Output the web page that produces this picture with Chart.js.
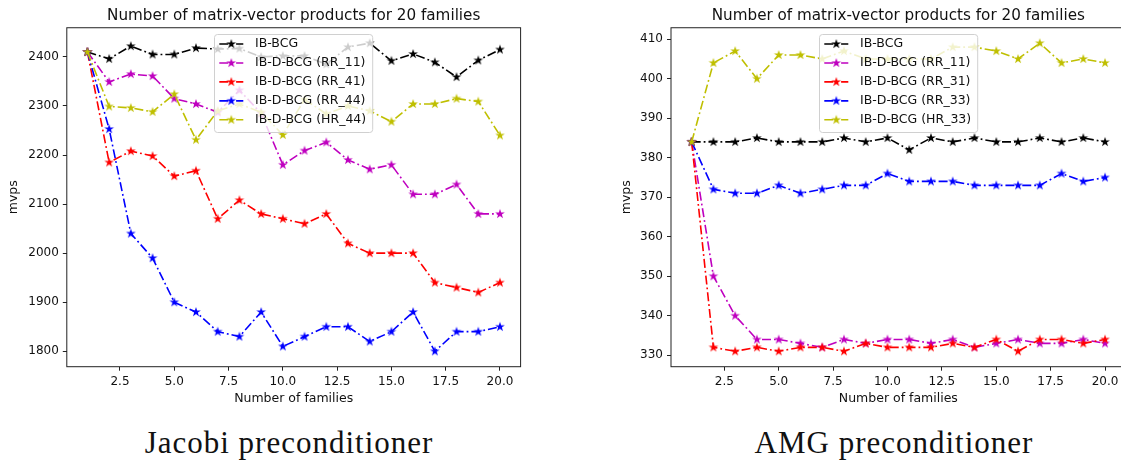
<!DOCTYPE html>
<html>
<head>
<meta charset="utf-8">
<script src="https://cdn.jsdelivr.net/npm/chart.js@4.4.1/dist/chart.umd.min.js"></script>
<style>
  html, body { margin: 0; padding: 0; background: #fff; }
  #wrap { position: relative; width: 1121px; height: 461px; overflow: hidden; }
  canvas { position: absolute; top: 0; }
  #jac { left: 0; }
  #amg { left: 560px; }
  .caption {
    position: absolute; top: 427px; line-height: 31px;
    font-family: "Liberation Serif", serif; font-size: 31px; letter-spacing: 1px;
    color: #111; white-space: nowrap; transform: translateX(-50%);
  }
</style>
</head>
<body>
<div id="wrap">
  <canvas id="jac" width="560" height="420"></canvas>
  <canvas id="amg" width="600" height="420"></canvas>
  <div class="caption" style="left:289px">Jacobi preconditioner</div>
  <div class="caption" style="left:894px">AMG preconditioner</div>
</div>
<script>
// number of families on the x axis
const families = [1, 2, 3, 4, 5, 6, 7, 8, 9, 10, 11, 12, 13, 14, 15, 16, 17, 18, 19, 20];
const xTicks = [2.5, 5, 7.5, 10, 12.5, 15, 17.5, 20];
const jacTicks = [1800, 1900, 2000, 2100, 2200, 2300, 2400];
const amgTicks = [330, 340, 350, 360, 370, 380, 390, 400, 410];

const jacLabels = ['IB-BCG', 'IB-D-BCG (RR_11)', 'IB-D-BCG (RR_41)', 'IB-D-BCG (RR_44)', 'IB-D-BCG (HR_44)'];
const amgLabels = ['IB-BCG', 'IB-D-BCG (RR_11)', 'IB-D-BCG (RR_31)', 'IB-D-BCG (RR_33)', 'IB-D-BCG (HR_33)'];

// Jacobi preconditioner
const jacIB   = [2410, 2396, 2422, 2405, 2405, 2418, 2416, 2417, 2400, 2402, 2402, 2385, 2420, 2428, 2392, 2406, 2389, 2359, 2393, 2415];
const jacRR11 = [2410, 2349, 2365, 2361, 2315, 2304, 2287, 2332, 2285, 2180, 2209, 2226, 2190, 2171, 2180, 2120, 2120, 2140, 2080, 2080];
const jacRR41 = [2410, 2185, 2208, 2198, 2157, 2168, 2070, 2108, 2080, 2070, 2060, 2080, 2020, 2000, 2000, 2000, 1940, 1930, 1920, 1940];
const jacRR44 = [2410, 2253, 2040, 1990, 1900, 1880, 1840, 1830, 1880, 1810, 1830, 1850, 1850, 1820, 1840, 1880, 1800, 1840, 1840, 1850];
const jacHR44 = [2410, 2299, 2296, 2288, 2324, 2231, 2290, 2304, 2287, 2241, 2313, 2284, 2300, 2290, 2268, 2304, 2304, 2315, 2309, 2240];

// AMG preconditioner
const amgIB   = [384, 384, 384, 385, 384, 384, 384, 385, 384, 385, 382, 385, 384, 385, 384, 384, 385, 384, 385, 384];
const amgRR11 = [384, 350, 340, 334, 334, 333, 332, 334, 333, 334, 334, 333, 334, 332, 333, 334, 333, 333, 334, 333];
const amgRR31 = [384, 332, 331, 332, 331, 332, 332, 331, 333, 332, 332, 332, 333, 332, 334, 331, 334, 334, 333, 334];
const amgRR33 = [384, 372, 371, 371, 373, 371, 372, 373, 373, 376, 374, 374, 374, 373, 373, 373, 373, 376, 374, 375];
const amgHR33 = [384, 404, 407, 400, 406, 406, 405, 407, 405, 405, 405, 405, 408, 408, 407, 405, 409, 404, 405, 404];

const colors = ['#000000', '#bf00bf', '#ff0000', '#0000ff', '#bfbf00'];
const dash = [9, 3, 1.8, 3];
const FONT = 'DejaVu Sans';
const INK = '#111';

function starImage(color) {
    const c = document.createElement('canvas');
    c.width = 12; c.height = 12;
    const g = c.getContext('2d');
    g.beginPath();
    for (let i = 0; i < 10; i++) {
        const r = i % 2 ? 1.95 : 5.1;
        const a = -Math.PI / 2 + i * Math.PI / 5;
        g.lineTo(6 + r * Math.cos(a), 6 + r * Math.sin(a));
    }
    g.closePath();
    g.fillStyle = color;
    g.fill();
    return c;
}
const stars = colors.map(starImage);

function makeSets(labels, series) {
    return series.map((vals, i) => ({
        label: labels[i],
        data: families.map((f, j) => ({x: f, y: vals[j]})),
        borderColor: colors[i],
        backgroundColor: colors[i],
        borderWidth: 1.6,
        borderDash: dash,
        pointStyle: stars[i],
        pointRadius: 5,
        pointHoverRadius: 5,
        tension: 0,
        fill: false,
        order: series.length - i
    }));
}

// matplotlib-like 5% margins
function yRange(series) {
    const all = [].concat(...series);
    const lo = Math.min(...all), hi = Math.max(...all);
    const pad = (hi - lo) * 0.05;
    return [lo - pad, hi + pad];
}

// box round the axes
const frame = {
    id: 'frame',
    afterDatasetsDraw(chart) {
        const {ctx, chartArea: a} = chart;
        ctx.save();
        ctx.strokeStyle = '#222';
        ctx.lineWidth = 1;
        ctx.strokeRect(a.left, a.top, a.right - a.left, a.bottom - a.top);
        ctx.restore();
    }
};

// legend box drawn over the lines
const boxLegend = {
    id: 'boxLegend',
    afterDraw(chart, args, opts) {
        const ctx = chart.ctx;
        const sets = chart.data.datasets;
        ctx.save();
        ctx.font = '12.5px "' + FONT + '"';
        const textW = Math.max(...sets.map(d => ctx.measureText(d.label).width));
        const w = 41 + textW + 6, h = 98;
        ctx.beginPath();
        ctx.roundRect(opts.x + 0.5, opts.y + 0.5, w, h, 3);
        ctx.fillStyle = 'rgba(255,255,255,0.8)';
        ctx.fill();
        ctx.strokeStyle = '#d0d0d0';
        ctx.lineWidth = 1;
        ctx.stroke();
        sets.forEach((d, i) => {
            const cy = opts.y + 10 + i * 18.95;
            ctx.beginPath();
            ctx.setLineDash(dash);
            ctx.strokeStyle = d.borderColor;
            ctx.lineWidth = 1.6;
            ctx.moveTo(opts.x + 5.3, cy);
            ctx.lineTo(opts.x + 29.3, cy);
            ctx.stroke();
            ctx.setLineDash([]);
            ctx.drawImage(d.pointStyle, opts.x + 17.3 - 6, cy - 6);
            ctx.fillStyle = INK;
            ctx.textBaseline = 'middle';
            ctx.fillText(d.label, opts.x + 41, cy);
        });
        ctx.restore();
    }
};

function makeChart(id, labels, series, yTicks, lay) {
    const [yMin, yMax] = yRange(series);
    return new Chart(document.getElementById(id), {
        type: 'line',
        data: {datasets: makeSets(labels, series)},
        plugins: [frame, boxLegend],
        options: {
            responsive: false,
            animation: false,
            devicePixelRatio: 1,
            layout: {padding: {left: lay.padL, right: lay.padR, top: 0, bottom: 14.5}},
            plugins: {
                legend: {display: false},
                tooltip: {enabled: false},
                title: {
                    display: true,
                    text: 'Number of matrix-vector products for 20 families',
                    fullSize: false,
                    color: INK,
                    font: {family: FONT, size: 15.2, weight: 'normal'},
                    padding: {top: 7.2, bottom: 2.3}
                },
                boxLegend: {x: lay.legX, y: 34}
            },
            scales: {
                x: {
                    type: 'linear', min: 0.05, max: 20.95,
                    afterBuildTicks: s => { s.ticks = xTicks.map(v => ({value: v})); },
                    afterFit: s => { s.height = 38.8; },
                    grid: {drawOnChartArea: false, drawTicks: true, tickLength: 4, tickColor: '#222'},
                    border: {display: false},
                    ticks: {
                        callback: v => v.toFixed(1), color: INK, padding: 3.5,
                        font: {family: FONT, size: 12}, maxRotation: 0, autoSkip: false
                    },
                    title: {
                        display: true, text: 'Number of families', color: INK,
                        font: {family: FONT, size: 12.5}, padding: {top: 0, bottom: -0.5}
                    }
                },
                y: {
                    type: 'linear', min: yMin, max: yMax,
                    afterBuildTicks: s => { s.ticks = yTicks.map(v => ({value: v})); },
                    afterFit: s => { s.width = lay.yW; },
                    grid: {drawOnChartArea: false, drawTicks: true, tickLength: 4, tickColor: '#222'},
                    border: {display: false},
                    ticks: {
                        callback: v => String(v), color: INK, padding: 4,
                        font: {family: FONT, size: 12}, autoSkip: false
                    },
                    title: {
                        display: true, text: 'mvps', color: INK,
                        font: {family: FONT, size: 12.5}, padding: {top: 6.1, bottom: 0}
                    }
                }
            }
        }
    });
}

makeChart('jac', jacLabels, [jacIB, jacRR11, jacRR41, jacRR44, jacHR44], jacTicks,
    {padL: 0, padR: 39.4, yW: 66.8, legX: 214});
makeChart('amg', amgLabels, [amgIB, amgRR11, amgRR31, amgRR33, amgHR33], amgTicks,
    {padL: 52.7, padR: 34.3, yW: 58.3, legX: 259});
</script>
</body>
</html>
